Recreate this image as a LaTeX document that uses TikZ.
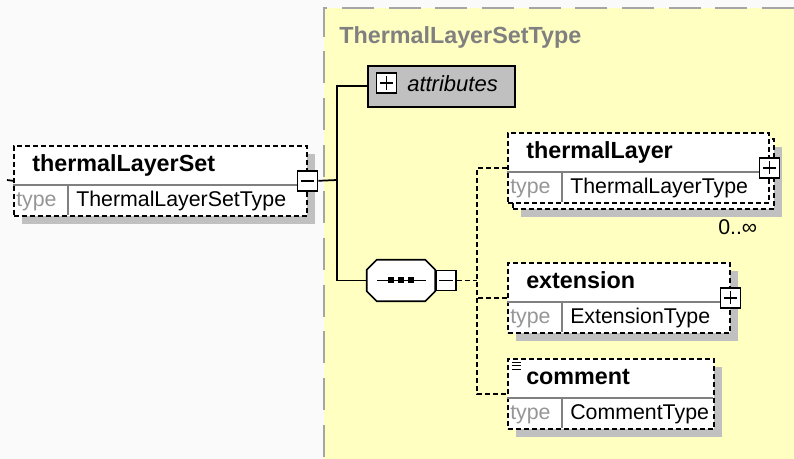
\documentclass[tikz,border=0pt]{standalone}
\usepackage{fontspec}
\setmainfont{Liberation Sans}
\usepackage{xcolor}
\usepackage{tikz}
\usetikzlibrary{positioning,shadows}

\definecolor{paperbg}{RGB}{250,250,250}
\definecolor{typebg}{RGB}{255,255,194}
\definecolor{shadowgray}{RGB}{192,192,192}
\definecolor{titlegray}{RGB}{128,128,128}
\definecolor{labelgray}{RGB}{150,150,150}
\definecolor{framegray}{RGB}{165,165,165}

\newcommand{\nameFont}{\fontsize{17.5}{20}\selectfont\bfseries}
\newcommand{\typeFont}{\fontsize{16}{19}\selectfont}

% element box: name row and type row
\newcommand{\elemBox}[7][shadowed]{%
  \node[elem, #1, minimum width=#5*0.75pt] (#2) at (#3,#4) {};
  \draw[rowline] (#3,#4+40) -- ++(#5,0) (#3+55,#4+40) -- ++(0,30);
  \node[txt, font=\nameFont] (#2-name) at (#3+19,#4+27) {#6};
  \node[txt, font=\typeFont, text=labelgray] (#2-lbl) at (#3+3,#4+62) {type};
  \node[txt, font=\typeFont] (#2-type) at (#3+63,#4+62) {#7};
}

\begin{document}
\begin{tikzpicture}[x=0.75pt, y=-0.75pt,
  elem/.style={draw, fill=white, anchor=north west, inner sep=0pt, minimum height=52.5pt,
    line width=1.2pt, dash pattern=on 3.6pt off 2.4pt},
  shadowed/.style={drop shadow={shadow xshift=6pt, shadow yshift=-6pt, opacity=1, fill=shadowgray}},
  rowline/.style={draw=titlegray, line width=0.9pt},
  txt/.style={anchor=base west, inner sep=0pt},
  pmbox/.style={draw, fill=white, minimum size=15pt, inner sep=0pt, line width=1.2pt},
  minusbox/.style={pmbox, path picture={
    \draw[line width=1.1pt] ([xshift=2.5pt]path picture bounding box.west) -- ([xshift=-2.5pt]path picture bounding box.east);}},
  plusbox/.style={pmbox, path picture={
    \draw[line width=1.1pt] ([xshift=2.5pt]path picture bounding box.west) -- ([xshift=-2.5pt]path picture bounding box.east)
      ([yshift=-2.5pt]path picture bounding box.north) -- ([yshift=2.5pt]path picture bounding box.south);}},
  attrbox/.style={draw, fill=shadowgray, anchor=north west, inner sep=0pt, line width=1.2pt,
    minimum width=110.25pt, minimum height=30.75pt},
  seqbox/.style={inner sep=0pt, minimum width=51pt, minimum height=30.75pt},
  seqline/.style={draw, fill=white, line width=1.2pt},
  conn/.style={line width=1.3pt},
  dconn/.style={line width=1.2pt, dash pattern=on 3.6pt off 2.4pt},
  frame/.style={draw=framegray, line width=1.2pt, dash pattern=on 24pt off 11pt}
]

\useasboundingbox (0,0) rectangle (794,459);
\fill[paperbg] (0,0) rectangle (794,459);

% complex type area
\fill[typebg] (324,8) rectangle (794,459);
\draw[frame] (794,8) -- (324,8) -- (324,459);
\node[txt, font=\nameFont, text=titlegray] (title) at (339,44) {ThermalLayerSetType};

% connectors
\coordinate (tls-in) at (7,180);
\coordinate (trunk) at (337,180);
\coordinate (branch) at (477,280.5);

% elements
\elemBox{tls}{13}{145}{293}{thermalLayerSet}{ThermalLayerSetType}
\node[minusbox] (tls-minus) at (tls.east) {};

\node[attrbox] (attr) at (367,65) {};
\node[plusbox] (attr-plus) at (386.5,83) {};
\node[txt, font=\fontsize{16.5}{19}\selectfont\itshape] (attr-txt) at (407,92) {attributes};

% sequence compositor
\node[seqbox] (seq) at (401,280.5) {};
\fill[shadowgray, shift={(8,8)}] ([xshift=7.5pt]seq.north west) -- ([xshift=-7.5pt]seq.north east)
  -- ([yshift=-7.5pt]seq.north east) -- ([yshift=7.5pt]seq.south east) -- ([xshift=-7.5pt]seq.south east)
  -- ([xshift=7.5pt]seq.south west) -- ([yshift=7.5pt]seq.south west) -- ([yshift=-7.5pt]seq.north west) -- cycle;
\draw[seqline] ([xshift=7.5pt]seq.north west) -- ([xshift=-7.5pt]seq.north east)
  -- ([yshift=-7.5pt]seq.north east) -- ([yshift=7.5pt]seq.south east) -- ([xshift=-7.5pt]seq.south east)
  -- ([xshift=7.5pt]seq.south west) -- ([yshift=7.5pt]seq.south west) -- ([yshift=-7.5pt]seq.north west) -- cycle;
\node[minusbox, right=0pt of seq] (seq-minus) {};
\draw[line width=1.3pt] (377,280.5) -- (426,280.5);
\foreach \dx in {391,401,411}
  \fill (\dx-3,277.5) rectangle ++(6,6);

\node[elem, shadowed, minimum width=195.75pt] (tl-back) at (512,138) {};
\elemBox[]{tl}{507}{132}{261}{thermalLayer}{ThermalLayerType}
\node[plusbox] (tl-plus) at (tl.east) {};
\node[txt, font=\typeFont] (tl-occ) at (718,235) {0..∞};

\elemBox{ext}{507}{262}{222}{extension}{ExtensionType}
\node[plusbox] (ext-plus) at (ext.east) {};

\elemBox{cmt}{507}{358}{206}{comment}{CommentType}
\draw[line width=0.7pt] (512,362) -- (521,362) (512,365.5) -- (521,365.5) (512,369) -- (521,369);

\draw[conn] (tls-in) -- (tls.west);
\draw[conn] (tls-minus.east) -- (trunk);
\draw[conn] (attr.west) -| (trunk) |- (seq.west);
\draw[dconn] (seq-minus.east) -- (branch);
\draw[dconn] (tl.west) -| (branch) |- (cmt.west);
\draw[dconn] (ext.west) -- (ext.west -| branch);

\end{tikzpicture}
\end{document}
